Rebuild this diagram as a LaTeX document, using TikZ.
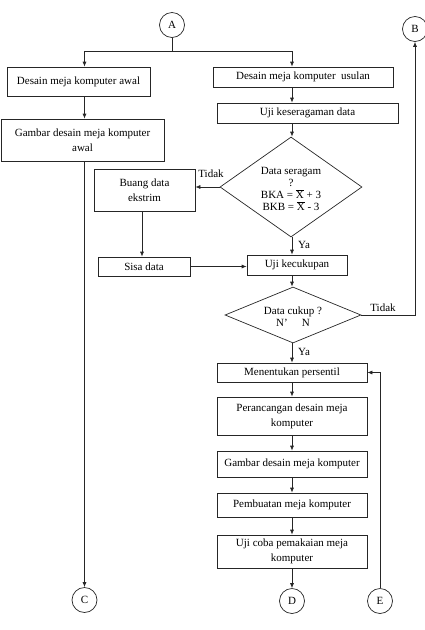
\documentclass[tikz,border=0pt]{standalone}
\usepackage{fontspec}
\setmainfont{Liberation Serif}
\usetikzlibrary{shapes.geometric,arrows.meta}
\begin{document}
\begin{tikzpicture}[x=1pt,y=-1pt,
  every node/.style={font=\fontsize{11}{15}\selectfont},
  ln/.style={draw=black!85,line width=0.7pt},
  arr/.style={ln,-{Latex[length=5pt,width=4pt]}},
  box/.style={ln,rectangle,inner sep=0pt,align=center},
  conn/.style={ln,circle,minimum size=25pt,inner sep=0pt},
  dia/.style={ln,diamond,inner sep=0pt},
  lbl/.style={inner sep=0pt}]
\useasboundingbox (0,0) rectangle (425,630);
% connectors
\node[conn] (A) at (172,25) {A};
\node[conn] (B) at (415,29) {B};
\node[conn] (C) at (84.5,600) {C};
\node[conn] (D) at (292,601) {D};
\node[conn] (E) at (380,601) {E};
% left column
\node[box,minimum width=143pt,minimum height=29pt] (b1) at (78.5,81.5) {Desain meja komputer awal};
\node[box,minimum width=163pt,minimum height=42pt] (b2) at (82.5,140) {Gambar desain meja komputer\\awal};
% right column
\node[box,minimum width=180pt,minimum height=20pt] (r1) at (303,77) {Desain meja komputer\ \ usulan};
\node[box,minimum width=181pt,minimum height=20pt] (r2) at (307.5,113) {Uji keseragaman data};
\node[dia,minimum width=142pt,minimum height=100pt] (d1) at (291,187) {};
\node[lbl,align=center,font=\fontsize{11}{12}\selectfont] (d1t) at (291,189) {Data seragam\\?\\BKA = $\overline{\mbox{X}}$ + 3\\BKB = $\overline{\mbox{X}}$ - 3};
\node[box,minimum width=101pt,minimum height=42pt] (bu) at (144.5,190) {Buang data\\ekstrim};
\node[box,minimum width=92pt,minimum height=19pt] (si) at (144,266.5) {Sisa data};
\node[box,minimum width=100pt,minimum height=20pt] (uk) at (297,265) {Uji kecukupan};
\node[dia,minimum width=136pt,minimum height=56pt] (d2) at (293,315) {};
\node[lbl,align=center,font=\fontsize{11}{12}\selectfont] (d2t) at (293,317) {Data cukup ?\\N’\hspace{1.3em}N};
\node[box,minimum width=150pt,minimum height=19pt] (m1) at (292,372.5) {Menentukan persentil};
\node[box,minimum width=150pt,minimum height=38pt] (m2) at (292,416) {Perancangan desain meja\\komputer};
\node[box,minimum width=150pt,minimum height=26pt] (m3) at (292,464) {Gambar desain meja komputer};
\node[box,minimum width=150pt,minimum height=24pt] (m4) at (292,505) {Pembuatan meja komputer};
\node[box,minimum width=150pt,minimum height=33pt] (m5) at (292,551.5) {Uji coba pemakaian meja\\komputer};
% labels
\node[lbl] (t1) at (211,174) {Tidak};
\node[lbl] (t2) at (383,308) {Tidak};
\node[lbl,anchor=west] (y1) at (298,245) {Ya};
\node[lbl,anchor=west] (y2) at (298,352) {Ya};
% connectors
\coordinate (s) at (172,51);
\draw[ln] (A.south) -- (s);
\draw[arr] (s) -| (b1.north -| C.north);
\draw[arr] (s) -| (r1.north -| 292,0);
\draw[arr] (b1.south -| C.north) -- (b2.north -| C.north);
\draw[arr] (b2.south -| C.north) -- (C.north);
\draw[arr] (r1.south -| 292,0) -- (r2.north -| 292,0);
\draw[arr] (r2.south -| 292,0) -- (d1.north -| 292,0);
\draw[arr] (d1.west) -- (bu.east |- d1.west);
\draw[arr] (bu.south -| 142,0) -- (si.north -| 142,0);
\draw[arr] (si.east) -- (uk.west |- si.east);
\draw[arr] (d1.south -| 292,0) -- (uk.north -| 292,0);
\draw[arr] (uk.south -| 292,0) -- (d2.north -| 292,0);
\draw[arr] (d2.east) -| (B.south);
\draw[arr] (d2.south -| 292,0) -- (m1.north -| 292,0);
\draw[arr] (m1) -- (m2);
\draw[arr] (m2) -- (m3);
\draw[arr] (m3) -- (m4);
\draw[arr] (m4) -- (m5);
\draw[arr] (m5) -- (D);
\draw[arr] (E.north) |- (m1.east);
\end{tikzpicture}
\end{document}
